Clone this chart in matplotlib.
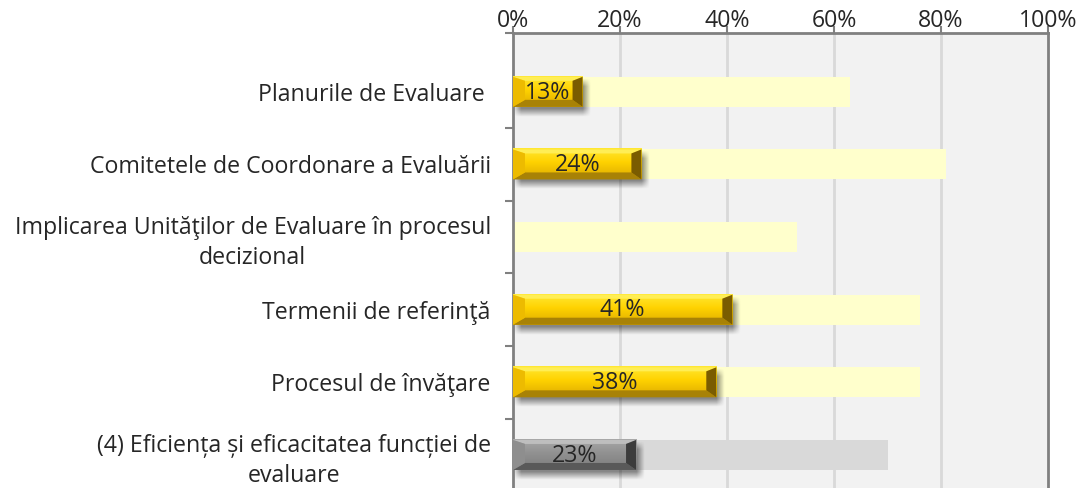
import numpy as np
import matplotlib
matplotlib.use("Agg")
import matplotlib.pyplot as plt
from matplotlib.patches import Polygon

plt.rcParams['font.family'] = ['Open Sans', 'DejaVu Sans']

# Date
categorii = [
    "Planurile de Evaluare ",
    "Comitetele de Coordonare a Evaluării",
    "Implicarea Unităţilor de Evaluare în procesul\ndecizional",
    "Termenii de referinţă",
    "Procesul de învăţare",
    "(4) Eficiența și eficacitatea funcției de\nevaluare",
]
fundal = [63, 81, 53, 76, 76, 70]        # bara deschisa din spate
valori = [13, 24, None, 41, 38, 23]      # bara cu relief
stil = ["aur", "aur", "aur", "aur", "aur", "gri"]
ticks_x = [0, 20, 40, 60, 80, 100]

PX_X = 535 / 100.0   # pixeli pe procent
PX_Y = 72.6          # pixeli pe categorie
H = 30 / PX_Y        # inaltimea barei
FS = 16.7

culori = {
    "aur": dict(fundal="#FFFFCC", sus="#FFEE55", jos="#A88206", st="#EDBB00",
                dr="#7A5C00", fata=["#FFE833", "#FFD200", "#DDAA00"]),
    "gri": dict(fundal="#D9D9D9", sus="#BEBEBE", jos="#595959", st="#8E8E8E",
                dr="#3C3C3C", fata=["#A8A8A8", "#919191", "#7C7C7C"]),
}


def umbra(ax, y, v):
    # umbra difuza sub bara
    dx, dy, r = 4 / PX_X, 6 / PX_Y, 4.0
    x0, x1 = 0 + dx, v + dx
    y0, y1 = y - H / 2 + dy, y + H / 2 + dy
    rx, ry = r / PX_X, r / PX_Y
    xs = np.linspace(x0 - 2 * rx, x1 + 2 * rx, 200)
    ys = np.linspace(y0 - 2 * ry, y1 + 2 * ry, 60)
    wx = np.clip((xs - x0 + rx) / (2 * rx), 0, 1) * np.clip((x1 + rx - xs) / (2 * rx), 0, 1)
    wy = np.clip((ys - y0 + ry) / (2 * ry), 0, 1) * np.clip((y1 + ry - ys) / (2 * ry), 0, 1)
    img = np.zeros((len(ys), len(xs), 4))
    img[..., 3] = np.outer(wy, wx) * 0.45
    ax.imshow(img, extent=(xs[0], xs[-1], ys[-1], ys[0]), aspect="auto",
              interpolation="bilinear", zorder=2)


def bara_relief(ax, y, v, c):
    x0, x1 = 0.0, v
    yt, yb = y - H / 2, y + H / 2
    bt, bb = 4 / PX_Y, 7 / PX_Y
    bl, br = 12 / PX_X, 10 / PX_X
    # fata barei cu gradient vertical
    grad = np.array([matplotlib.colors.to_rgb(k) for k in c["fata"]])
    t = np.linspace(0, 1, 50)
    img = np.stack([np.interp(t, [0, 0.45, 1], grad[:, k]) for k in range(3)], axis=1)
    img = img[:, None, :]
    ax.imshow(img, extent=(x0, x1, yb, yt), aspect="auto", interpolation="bilinear", zorder=3)
    # marginile in relief
    ax.add_patch(Polygon([(x0, yt), (x1, yt), (x1 - br, yt + bt), (x0 + bl, yt + bt)],
                         closed=True, fc=c["sus"], ec="none", zorder=4))
    ax.add_patch(Polygon([(x0, yb), (x1, yb), (x1 - br, yb - bb), (x0 + bl, yb - bb)],
                         closed=True, fc=c["jos"], ec="none", zorder=4))
    ax.add_patch(Polygon([(x0, yt), (x0 + bl, yt + bt), (x0 + bl, yb - bb), (x0, yb)],
                         closed=True, fc=c["st"], ec="none", zorder=4))
    ax.add_patch(Polygon([(x1, yt), (x1 - br, yt + bt), (x1 - br, yb - bb), (x1, yb)],
                         closed=True, fc=c["dr"], ec="none", zorder=4))
    ax.text(v / 2, y + 0.01, f"{v}%", ha="center", va="center", fontsize=FS,
            color="#262626", zorder=5)


fig = plt.figure(figsize=(10.8, 4.88), dpi=100)
ax = fig.add_axes([513 / 1080, 0, 535 / 1080, 455 / 488])
ax.set_facecolor("#F2F2F2")

y = np.arange(len(categorii))
ax.barh(y, fundal, height=H, color=[culori[s]["fundal"] for s in stil], zorder=1)

for i, (v, s) in enumerate(zip(valori, stil)):
    if v is None:
        continue
    umbra(ax, i, v)
    bara_relief(ax, i, v, culori[s])

ax.set_xlim(0, 100)
ax.set_ylim(5.455, -0.81)

ax.xaxis.tick_top()
ax.set_xticks(ticks_x)
ax.set_xticklabels([f"{t}%" for t in ticks_x], fontsize=FS, color="#262626")
ax.tick_params(axis="x", direction="out", length=5, width=1.5, color="#808080", pad=-5)
for t in ticks_x[1:-1]:
    ax.axvline(t, color="#D9D9D9", lw=2, zorder=0.5)

ax.set_yticks(y)
ax.set_yticklabels(categorii, fontsize=FS, color="#262626")
for lbl in ax.get_yticklabels():
    lbl.set_multialignment("center")
    lbl.set_linespacing(1.35)
ax.tick_params(axis="y", length=0, pad=16)
ax.set_yticks([-0.81] + list(np.arange(0.5, 5, 1)), minor=True)
ax.tick_params(axis="y", which="minor", length=6, width=1.5, color="#808080")

for s in ["top", "left", "right"]:
    ax.spines[s].set_color("#808080")
    ax.spines[s].set_linewidth(2)
ax.spines["bottom"].set_visible(False)

fig.savefig("out.png", dpi=100)
